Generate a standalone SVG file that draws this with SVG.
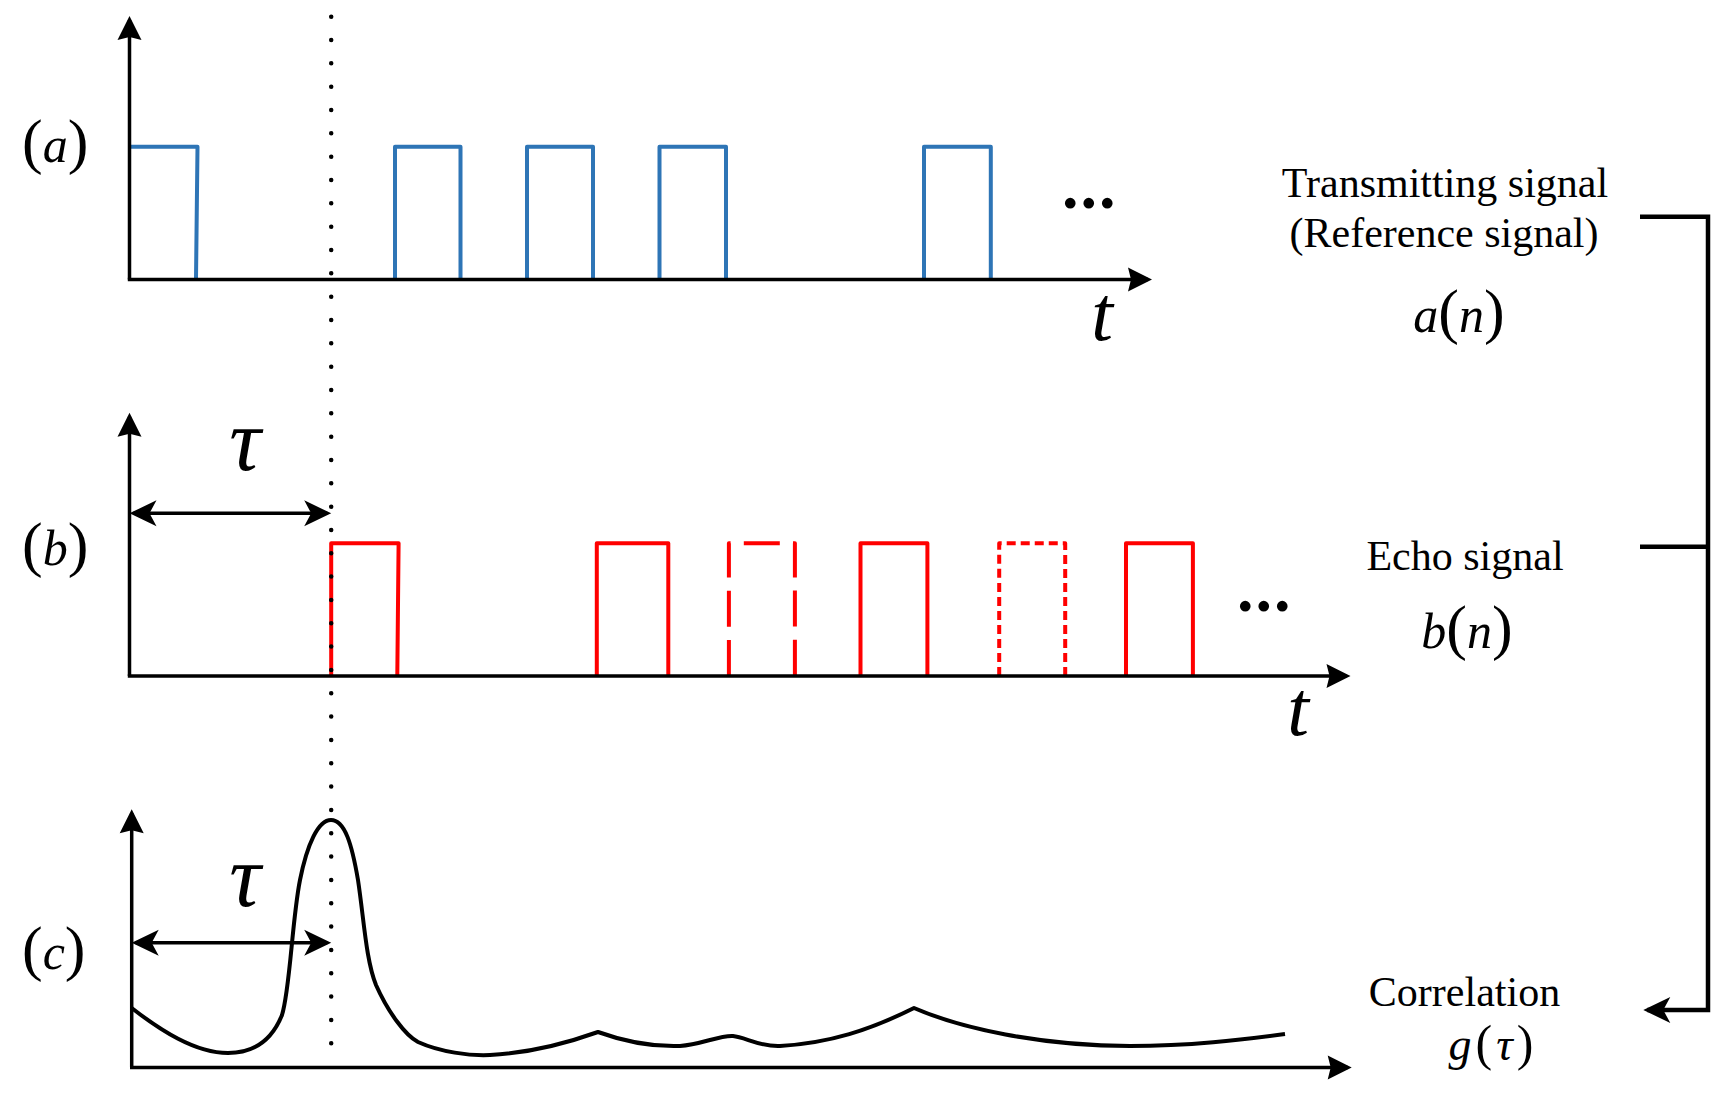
<svg xmlns="http://www.w3.org/2000/svg" width="1736" height="1107" viewBox="0 0 1736 1107">
  <style>
    .axis { fill: none; stroke: #000; stroke-width: 3.5; }
    .blue { fill: none; stroke: #2E75B6; stroke-width: 4; stroke-linejoin: round; }
    .red { fill: none; stroke: #FF0000; stroke-width: 4; stroke-linejoin: round; }
    .dash1 { stroke-dasharray: 36 13.2; }
    .dash2 { stroke-dasharray: 9 5.02; }
    .curve { fill: none; stroke: #000; stroke-width: 4; stroke-linejoin: round; }
    .brk { fill: none; stroke: #000; stroke-width: 4.5; }
    .dots { fill: none; stroke: #000; stroke-width: 4.5; stroke-linecap: round; stroke-dasharray: 0 23.33; }
    .txt { font-family: "Liberation Serif", "Times New Roman", serif; fill: #000; }
    .it { font-style: italic; }
  </style>
  <defs>
    <marker id="ah" markerUnits="userSpaceOnUse" orient="auto-start-reverse" overflow="visible" refX="0" refY="0" markerWidth="30" markerHeight="30">
      <path d="M4,0 L-20,-12 L-17,0 L-20,12 Z" fill="#000"/>
    </marker>
    <marker id="ah2" markerUnits="userSpaceOnUse" orient="auto-start-reverse" overflow="visible" refX="0" refY="0" markerWidth="30" markerHeight="30">
      <path d="M4,0 L-23,-13 L-16,0 L-23,13 Z" fill="#000"/>
    </marker>
  </defs>

  <!-- Panel (a) -->
  <g id="panel-a">
    <path class="blue" d="M129.5,146.7 H197.5 L196,279.5"/>
    <path class="blue" d="M395,279.5 V146.7 H460.5 V279.5"/>
    <path class="blue" d="M527,279.5 V146.7 H593 V279.5"/>
    <path class="blue" d="M659.5,279.5 V146.7 H726 V279.5"/>
    <path class="blue" d="M924,279.5 V146.7 H990.8 V279.5"/>
    <text class="txt" x="22" y="162"><tspan font-size="62">(</tspan><tspan class="it" font-size="50">a</tspan><tspan font-size="62">)</tspan></text>
    <text class="txt" x="1062" y="208" font-size="66" font-weight="bold" letter-spacing="2">...</text>
    <text class="txt it" x="1102" y="340" font-size="78" text-anchor="middle">t</text>
  </g>

  <!-- Panel (b) -->
  <g id="panel-b">
    <path class="red" d="M331.2,676 V543.3 H398.6 L397.3,676"/>
    <path class="red" d="M596.8,676 V543.3 H668.3 V676"/>
    <path class="red dash1" d="M728.9,676 V543.3 H794.9 V676"/>
    <path class="red" d="M860.5,676 V543.3 H927.4 V676"/>
    <path class="red dash2" d="M999.2,676 V543.3 H1065.2 V676"/>
    <path class="red" d="M1126,676 V543.3 H1192.9 V676"/>
    <text class="txt" x="22" y="565"><tspan font-size="62">(</tspan><tspan class="it" font-size="50">b</tspan><tspan font-size="62">)</tspan></text>
    <text class="txt it" x="245" y="470" font-size="88" text-anchor="middle">τ</text>
    <text class="txt" x="1237" y="611" font-size="66" font-weight="bold" letter-spacing="2">...</text>
    <text class="txt it" x="1298" y="735" font-size="78" text-anchor="middle">t</text>
  </g>

  <!-- Panel (c) -->
  <g id="panel-c">
    <path class="curve" d="M131.7,1008 C160,1030 195,1053 228,1053 C255,1053 272,1040 282,1015 C290,990 292,920 300,880 C307,845 318,820 331,820 C345,820 352,845 358,880 C364,920 366,960 376,985 C388,1012 405,1035 418,1042 C440,1052 470,1056 490,1055 C530,1053 570,1042 598,1032 C620,1040 650,1047 680,1046 C700,1045 720,1035 733,1036 C745,1037 760,1047 780,1046 C830,1043 870,1030 914,1008 C960,1028 1040,1046 1130,1046 C1190,1046 1240,1040 1285,1034"/>
    <text class="txt" x="22" y="969"><tspan font-size="62">(</tspan><tspan class="it" font-size="50">c</tspan><tspan font-size="62">)</tspan></text>
    <text class="txt it" x="245" y="906" font-size="88" text-anchor="middle">τ</text>
  </g>

  <!-- Right-hand labels -->
  <g id="label-transmit">
    <text class="txt" x="1445" y="197" font-size="42" text-anchor="middle">Transmitting signal</text>
    <text class="txt" x="1444" y="247" font-size="42" text-anchor="middle">(Reference signal)</text>
    <text class="txt" x="1459" y="332" text-anchor="middle"><tspan class="it" font-size="50">a</tspan><tspan font-size="62">(</tspan><tspan class="it" font-size="50">n</tspan><tspan font-size="62">)</tspan></text>
  </g>
  <g id="label-echo">
    <text class="txt" x="1465" y="570" font-size="42" text-anchor="middle">Echo signal</text>
    <text class="txt" x="1467" y="648" text-anchor="middle"><tspan class="it" font-size="50">b</tspan><tspan font-size="62">(</tspan><tspan class="it" font-size="50">n</tspan><tspan font-size="62">)</tspan></text>
  </g>
  <g id="label-corr">
    <text class="txt" x="1464.5" y="1006" font-size="42" text-anchor="middle">Correlation</text>
    <text class="txt" x="1493" y="1060" text-anchor="middle" letter-spacing="4"><tspan class="it" font-size="46">g</tspan><tspan font-size="50">(</tspan><tspan class="it" font-size="46">τ</tspan><tspan font-size="50">)</tspan></text>
  </g>

  <!-- Connectors: axes, delay arrows, bracket, reference line -->
  <g id="connectors">
    <line class="axis" x1="129.5" y1="279.5" x2="129.5" y2="20" marker-end="url(#ah)"/>
    <line class="axis" x1="127.8" y1="279.5" x2="1148" y2="279.5" marker-end="url(#ah)"/>
    <line class="axis" x1="129.5" y1="676" x2="129.5" y2="416.7" marker-end="url(#ah)"/>
    <line class="axis" x1="127.8" y1="676" x2="1346.5" y2="676" marker-end="url(#ah)"/>
    <line class="axis" x1="131.7" y1="1067.5" x2="131.7" y2="813.3" marker-end="url(#ah)"/>
    <line class="axis" x1="130" y1="1067.5" x2="1347.7" y2="1067.5" marker-end="url(#ah)"/>
    <line class="axis" x1="133.5" y1="513.3" x2="327.2" y2="513.3" marker-start="url(#ah2)" marker-end="url(#ah2)"/>
    <line class="axis" x1="135.7" y1="942.7" x2="327.2" y2="942.7" marker-start="url(#ah2)" marker-end="url(#ah2)"/>
    <polyline class="brk" points="1640,216.7 1708,216.7 1708,1010 1647.3,1010" marker-end="url(#ah2)"/>
    <line class="brk" x1="1640" y1="546.7" x2="1708" y2="546.7"/>
    <line class="dots" x1="331.2" y1="16.7" x2="331.2" y2="1064"/>
  </g>
</svg>
